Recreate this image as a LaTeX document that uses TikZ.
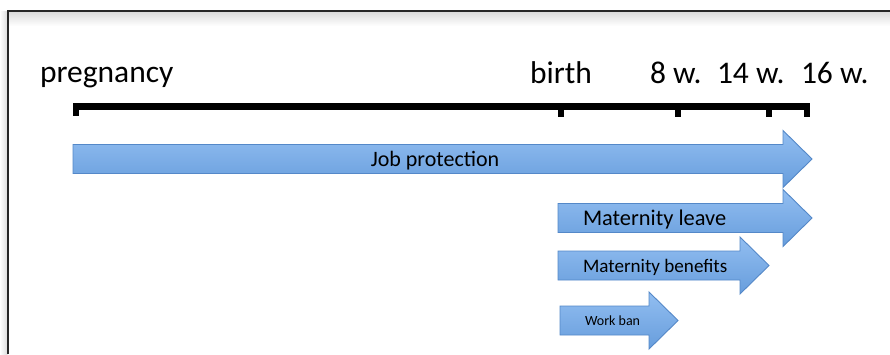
\documentclass[tikz,border=0pt]{standalone}
\usepackage{fontspec}
\setmainfont{Carlito}
\begin{document}
\begin{tikzpicture}[x=1pt,y=-1pt,
  every node/.style={inner sep=0pt,outer sep=0pt,text=black},
  blockarrow/.style={draw={rgb,255:red,84;green,136;blue,200},line width=0.9pt,line join=miter,
    top color={rgb,255:red,146;green,190;blue,241},bottom color={rgb,255:red,103;green,157;blue,220}},
  axislabel/.style={anchor=base west,font=\fontsize{31.5}{36}\selectfont},
  tickmark/.style={fill=black}]
\useasboundingbox (0,0) rectangle (890,354);
\fill[white] (0,0) rectangle (890,354);

% soft shadow of the frame
\shade[top color=black!14,bottom color=white] (8,12) rectangle (890,26);
\shade[left color=white,right color=black!14] (0,11) rectangle (7.5,354);
% frame
\draw[black!85,line width=1.5pt] (8,354) -- (8,11) -- (890,11);

% fat arrow: body from x0 to the neck, head of length 29
\newcommand\fatarrow[3]{%
  \path[blockarrow] (#1,#3-14.5) -- (#2-29,#3-14.5) -- (#2-29,#3-28.5) -- (#2,#3)
    -- (#2-29,#3+28.5) -- (#2-29,#3+14.5) -- (#1,#3+14.5) -- cycle;}

% time axis
\fill[black] (73,103) rectangle (810,110);
\fill[tickmark] (73,103) rectangle (79,116);
\fill[tickmark] (558,103) rectangle (564,117);
\fill[tickmark] (675,103) rectangle (681,117);
\fill[tickmark] (766,103) rectangle (772,117);
\fill[tickmark] (804,103) rectangle (810,117);

\node[axislabel] (preg) at (40,82.5) {pregnancy};
\node[axislabel] (birth) at (530,83) {birth};
\node[axislabel] (w8) at (650,83) {8 w.};
\node[axislabel] (w14) at (717,83) {14 w.};
\node[axislabel] (w16) at (801,83) {16 w.};

% periods
\fatarrow{73}{812}{159}
\node[anchor=base,font=\fontsize{22}{26}\selectfont] (job) at (435,166.5) {Job protection};

\fatarrow{558}{812}{218}
\node[anchor=base west,font=\fontsize{22.4}{26}\selectfont] (leave) at (583,225) {Maternity leave};

\fatarrow{558}{769}{265.5}
\node[anchor=base west,font=\fontsize{19.1}{23}\selectfont] (benefits) at (583,272.5) {Maternity benefits};

\fatarrow{560}{678}{320.5}
\node[anchor=base west,font=\fontsize{14}{17}\selectfont] (ban) at (585,325.5) {Work ban};
\end{tikzpicture}
\end{document}
